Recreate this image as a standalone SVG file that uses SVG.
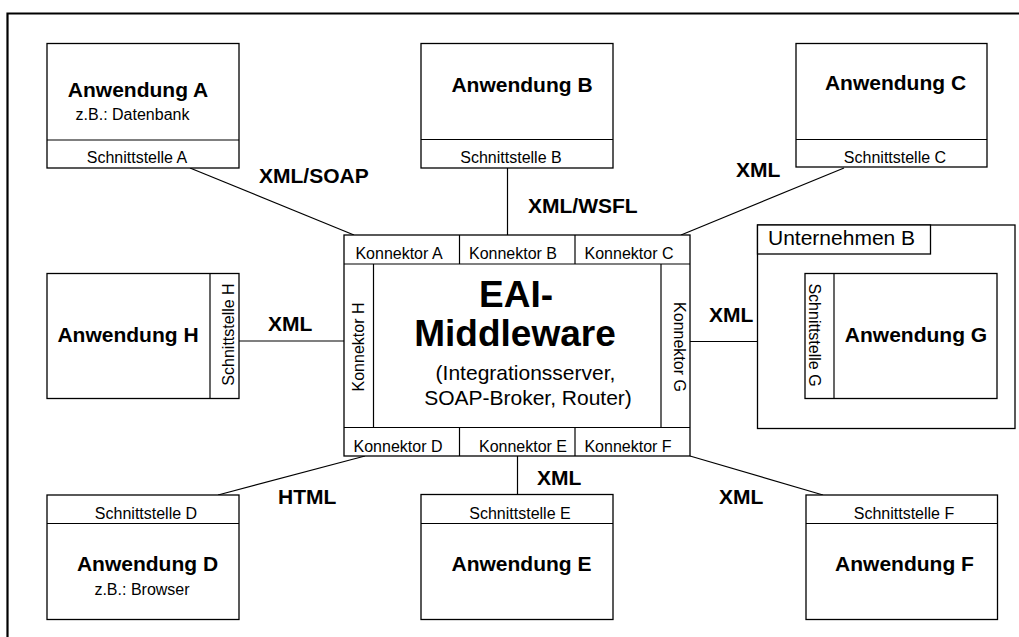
<svg xmlns="http://www.w3.org/2000/svg" width="1019" height="637" viewBox="0 0 1019 637">
<style>
.bx{fill:#fff;stroke:#000;stroke-width:1.3}
.ln{fill:none;stroke:#000;stroke-width:1.2}
.t{font-family:"Liberation Sans",Arial,sans-serif;font-size:16px;fill:#000}
.c{text-anchor:middle}
.b{font-family:"Liberation Sans",Arial,sans-serif;font-size:21px;font-weight:bold;fill:#000}
.r{font-family:"Liberation Sans",Arial,sans-serif;font-size:21px;fill:#000}
</style>
<rect width="1019" height="637" fill="#fff"/>
<path d="M7.5 637 V13.5 H1019" fill="none" stroke="#000" stroke-width="2.2"/>

<g id="connectors">
<line class="ln" x1="190" y1="168" x2="354" y2="235"/>
<line class="ln" x1="507.5" y1="168" x2="507.5" y2="235"/>
<line class="ln" x1="844" y1="168" x2="681" y2="235"/>
<line class="ln" x1="239" y1="341" x2="344" y2="341"/>
<line class="ln" x1="690" y1="341.5" x2="805" y2="341.5"/>
<line class="ln" x1="218" y1="495" x2="365" y2="456"/>
<line class="ln" x1="517.5" y1="456" x2="517.5" y2="495"/>
<line class="ln" x1="690" y1="456" x2="823" y2="495"/>
<text class="b" x="259" y="183">XML/SOAP</text>
<text class="b" x="528" y="213">XML/WSFL</text>
<text class="b" x="736" y="177">XML</text>
<text class="b" x="268" y="331">XML</text>
<text class="b" x="709" y="322">XML</text>
<text class="b" x="278" y="504">HTML</text>
<text class="b" x="537" y="485">XML</text>
<text class="b" x="719" y="504">XML</text>
</g>

<g id="middleware">
<rect class="bx" x="344" y="235" width="346" height="221"/>
<line class="ln" x1="344" y1="264" x2="690" y2="264"/>
<line class="ln" x1="344" y1="427.5" x2="690" y2="427.5"/>
<line class="ln" x1="373.5" y1="264" x2="373.5" y2="427.5"/>
<line class="ln" x1="661" y1="264" x2="661" y2="427.5"/>
<line class="ln" x1="459.5" y1="235" x2="459.5" y2="264"/>
<line class="ln" x1="575" y1="235" x2="575" y2="264"/>
<line class="ln" x1="459.5" y1="427.5" x2="459.5" y2="456"/>
<line class="ln" x1="575" y1="427.5" x2="575" y2="456"/>
<text class="t c" x="399" y="259">Konnektor A</text>
<text class="t c" x="513" y="259">Konnektor B</text>
<text class="t c" x="629" y="259">Konnektor C</text>
<text class="t c" x="398" y="451.5">Konnektor D</text>
<text class="t c" x="523" y="451.5">Konnektor E</text>
<text class="t c" x="628" y="451.5">Konnektor F</text>
<text class="t c" transform="translate(363.5 347) rotate(-90)">Konnektor H</text>
<text class="t c" transform="translate(674 347) rotate(90)">Konnektor G</text>
<text class="c" x="516" y="307" font-family="Liberation Sans,Arial,sans-serif" font-size="37" font-weight="bold">EAI-</text>
<text class="c" x="515" y="346" font-family="Liberation Sans,Arial,sans-serif" font-size="37" font-weight="bold">Middleware</text>
<text class="r c" x="525.5" y="380">(Integrationsserver,</text>
<text class="r c" x="528" y="405">SOAP-Broker, Router)</text>
</g>

<g id="anwendung-a">
<rect class="bx" x="47" y="43.5" width="192" height="124.5"/>
<line class="ln" x1="47" y1="140" x2="239" y2="140"/>
<text class="b c" x="138" y="97">Anwendung A</text>
<text class="t c" x="132.5" y="120">z.B.: Datenbank</text>
<text class="t c" x="137" y="163">Schnittstelle A</text>
</g>

<g id="anwendung-b">
<rect class="bx" x="421" y="43.5" width="192" height="124.5"/>
<line class="ln" x1="421" y1="139.5" x2="613" y2="139.5"/>
<text class="b c" x="522" y="92">Anwendung B</text>
<text class="t c" x="511" y="163">Schnittstelle B</text>
</g>

<g id="anwendung-c">
<rect class="bx" x="796" y="43.5" width="191" height="123.5"/>
<line class="ln" x1="796" y1="139.5" x2="987" y2="139.5"/>
<text class="b c" x="895.5" y="90">Anwendung C</text>
<text class="t c" x="895" y="163">Schnittstelle C</text>
</g>

<g id="anwendung-h">
<rect class="bx" x="47" y="273.5" width="192" height="125"/>
<line class="ln" x1="210" y1="273.5" x2="210" y2="398.5"/>
<text class="b c" x="128" y="342">Anwendung H</text>
<text class="t c" transform="translate(234 334.5) rotate(-90)">Schnittstelle H</text>
</g>

<g id="unternehmen-b">
<rect class="bx" x="757.5" y="225" width="257.5" height="203.5"/>
<rect class="bx" x="757.5" y="225" width="173" height="29"/>
<text class="r" x="768" y="244.5">Unternehmen B</text>
</g>

<g id="anwendung-g">
<rect class="bx" x="805" y="273.5" width="192" height="125"/>
<line class="ln" x1="834" y1="273.5" x2="834" y2="398.5"/>
<text class="b c" x="916" y="342">Anwendung G</text>
<text class="t c" transform="translate(809 335) rotate(90)">Schnittstelle G</text>
</g>

<g id="anwendung-d">
<rect class="bx" x="47" y="495" width="192" height="124.5"/>
<line class="ln" x1="47" y1="523.5" x2="239" y2="523.5"/>
<text class="t c" x="146" y="519">Schnittstelle D</text>
<text class="b c" x="147.5" y="571">Anwendung D</text>
<text class="t c" x="142" y="595">z.B.: Browser</text>
</g>

<g id="anwendung-e">
<rect class="bx" x="421" y="494.5" width="192" height="125"/>
<line class="ln" x1="421" y1="523.5" x2="613" y2="523.5"/>
<text class="t c" x="520" y="518.5">Schnittstelle E</text>
<text class="b c" x="521.5" y="571">Anwendung E</text>
</g>

<g id="anwendung-f">
<rect class="bx" x="806" y="495" width="191.5" height="124.5"/>
<line class="ln" x1="806" y1="523.5" x2="997.5" y2="523.5"/>
<text class="t c" x="904" y="518.5">Schnittstelle F</text>
<text class="b c" x="904.5" y="571">Anwendung F</text>
</g>
</svg>
